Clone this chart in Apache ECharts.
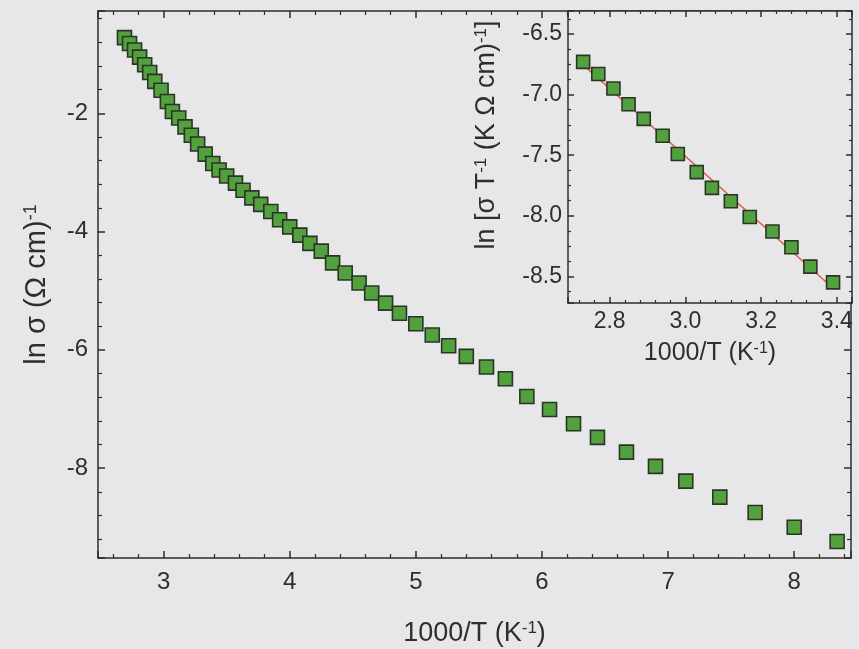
<!DOCTYPE html>
<html><head><meta charset="utf-8">
<script src="https://cdn.jsdelivr.net/npm/echarts@6/dist/echarts.min.js"></script>
<style>html,body{margin:0;padding:0;background:#e7e7e9}#c{width:859px;height:649px}</style>
</head><body><div id="c"></div>
<script>
// Main plot: ln sigma vs 1000/T
const mainX = [2.69,2.73,2.77,2.81,2.85,2.89,2.93,2.98,3.03,3.07,3.12,3.17,3.22,3.27,3.33,3.39,3.44,3.50,3.57,3.63,3.70,3.77,3.85,3.92,4.00,4.08,4.16,4.25,4.34,4.44,4.55,4.65,4.76,4.87,5.00,5.13,5.26,5.40,5.56,5.71,5.88,6.06,6.25,6.44,6.67,6.90,7.14,7.41,7.69,8.00,8.34];
const mainY = [-0.72,-0.82,-0.93,-1.05,-1.18,-1.31,-1.46,-1.61,-1.80,-1.97,-2.08,-2.23,-2.37,-2.52,-2.69,-2.85,-2.96,-3.06,-3.18,-3.30,-3.43,-3.54,-3.66,-3.80,-3.92,-4.06,-4.20,-4.33,-4.53,-4.70,-4.87,-5.04,-5.21,-5.38,-5.56,-5.75,-5.93,-6.11,-6.29,-6.49,-6.79,-7.01,-7.25,-7.48,-7.73,-7.97,-8.22,-8.49,-8.75,-9.00,-9.24];
// Inset: ln(sigma/T) vs 1000/T
const insetX = [2.73,2.77,2.81,2.85,2.89,2.94,2.98,3.03,3.07,3.12,3.17,3.23,3.28,3.33,3.39];
const insetY = [-6.73,-6.83,-6.95,-7.08,-7.20,-7.34,-7.49,-7.64,-7.77,-7.88,-8.01,-8.13,-8.26,-8.42,-8.55];
// tick labels
const mainXTicks = [3,4,5,6,7,8];
const mainYTicks = [-8,-6,-4,-2];
const insetXTicks = [2.8,3.0,3.2,3.4];
const insetYTicks = [-8.5,-8.0,-7.5,-7.0,-6.5];

// least-squares fit line of inset data
function fit(xs, ys){
  const n = xs.length; let sx=0,sy=0,sxx=0,sxy=0;
  for(let i=0;i<n;i++){sx+=xs[i];sy+=ys[i];sxx+=xs[i]*xs[i];sxy+=xs[i]*ys[i];}
  const b=(n*sxy-sx*sy)/(n*sxx-sx*sx), a=(sy-b*sx)/n;
  const x0=xs[0], x1=xs[n-1];
  return [[x0,a+b*x0],[x1,a+b*x1]];
}

const TXT = '#2e2e2e';
const LINE = {color:'#2e2e2e', width:1.5};
function inList(list, dec){ return v => { for (const t of list) if (Math.abs(t - v) < 1e-6) return dec ? t.toFixed(dec) : String(t); return ''; }; }

function mkAxis(o){
  return Object.assign({
    type:'value', splitLine:{show:false},
    axisLine:{show:true,onZero:false,lineStyle:LINE},
    axisTick:{show:true,inside:true,length:7,lineStyle:LINE},
    minorTick:{show:true,splitNumber:5,length:4,lineStyle:{color:'#2e2e2e',width:1.2}},
    axisLabel:{show:false},
  }, o);
}
const insetTick = {show:true,inside:true,length:6,lineStyle:LINE};
const insetMinor = n => ({show:true,splitNumber:n,length:3,lineStyle:{color:'#2e2e2e',width:1.2}});

const supRich = (fs, sfs) => ({t:{fontSize:fs,color:TXT,fontFamily:'Liberation Sans, Arial'}, sup:{fontSize:sfs,color:TXT,verticalAlign:'top',fontFamily:'Liberation Sans, Arial'}});

const chart = echarts.init(document.getElementById('c'));
chart.setOption({
  backgroundColor:'#e7e7e9',
  animation:false,
  textStyle:{fontFamily:'Liberation Sans, Arial'},
  grid:[
    {left:98, top:11, right:8, bottom:91, show:false, z:0, containLabel:false, outerBoundsMode:'none'},
    {left:568, top:11, right:7, bottom:346, show:true, backgroundColor:'#e7e7e9', borderWidth:0, z:3, containLabel:false, outerBoundsMode:'none'}
  ],
  xAxis:[
    mkAxis({gridIndex:0, position:'bottom', min:2.48, max:8.45, minInterval:1, maxInterval:1, splitNumber:6,
      axisLabel:{show:true, fontSize:24, color:TXT, margin:12, showMinLabel:false, showMaxLabel:false, formatter:inList(mainXTicks,0)},
      name:'{t|1000/T (K}{sup|-1}{t|)}', nameLocation:'middle', nameGap:62,
      nameTextStyle:{rich:supRich(27,17)}}),
    mkAxis({gridIndex:0, position:'top', min:2.48, max:8.45, minInterval:1, maxInterval:1, splitNumber:6}),
    mkAxis({gridIndex:1, position:'bottom', min:2.69, max:3.44, minInterval:0.2, maxInterval:0.2, splitNumber:4, z:4,
      axisTick:insetTick, minorTick:insetMinor(5),
      axisLabel:{show:true, fontSize:23, color:TXT, margin:7, showMinLabel:false, showMaxLabel:false, formatter:inList(insetXTicks,1)},
      name:'{t|1000/T (K}{sup|-1}{t|)}', nameLocation:'middle', nameGap:38,
      nameTextStyle:{rich:supRich(25,16)}}),
    mkAxis({gridIndex:1, position:'top', min:2.69, max:3.44, minInterval:0.2, maxInterval:0.2, splitNumber:4, z:4,
      axisTick:insetTick, minorTick:insetMinor(5)})
  ],
  yAxis:[
    mkAxis({gridIndex:0, position:'left', min:-9.52, max:-0.27, minInterval:2, maxInterval:2, splitNumber:5,
      axisLabel:{show:true, fontSize:24, color:TXT, margin:10, showMinLabel:false, showMaxLabel:false, formatter:inList(mainYTicks,0)},
      name:'{t|ln σ (Ω cm)}{sup|-1}', nameLocation:'middle', nameGap:47,
      nameTextStyle:{rich:supRich(29,18)}}),
    mkAxis({gridIndex:0, position:'right', min:-9.52, max:-0.27, minInterval:2, maxInterval:2, splitNumber:5}),
    mkAxis({gridIndex:1, position:'left', min:-8.72, max:-6.31, minInterval:0.5, maxInterval:0.5, splitNumber:5, z:4,
      axisTick:insetTick, minorTick:insetMinor(4),
      axisLabel:{show:true, fontSize:23, color:TXT, margin:6, showMinLabel:false, showMaxLabel:false, formatter:inList(insetYTicks,1)},
      name:'{t|ln [σ T}{sup|-1}{t| (K Ω cm)}{sup|-1}{t|]}', nameLocation:'middle', nameGap:68,
      nameTextStyle:{rich:supRich(27,17), padding:[0,0,0,44]}}),
    mkAxis({gridIndex:1, position:'right', min:-8.72, max:-6.31, minInterval:0.5, maxInterval:0.5, splitNumber:5, z:4,
      axisTick:insetTick, minorTick:insetMinor(4)})
  ],
  series:[
    {type:'scatter', xAxisIndex:0, yAxisIndex:0, symbol:'rect', symbolSize:14,
     itemStyle:{color:'#52a03e', borderColor:'#2b3526', borderWidth:1.6, opacity:1},
     data: mainX.map((x,i)=>[x, mainY[i]])},
    {type:'line', xAxisIndex:2, yAxisIndex:2, z:5, symbol:'none', lineStyle:{color:'#e0604e', width:1.6},
     data: fit(insetX, insetY)},
    {type:'scatter', xAxisIndex:2, yAxisIndex:2, z:6, symbol:'rect', symbolSize:13,
     itemStyle:{color:'#52a03e', borderColor:'#2b3526', borderWidth:1.6, opacity:1},
     data: insetX.map((x,i)=>[x, insetY[i]])}
  ]
});
</script></body></html>
